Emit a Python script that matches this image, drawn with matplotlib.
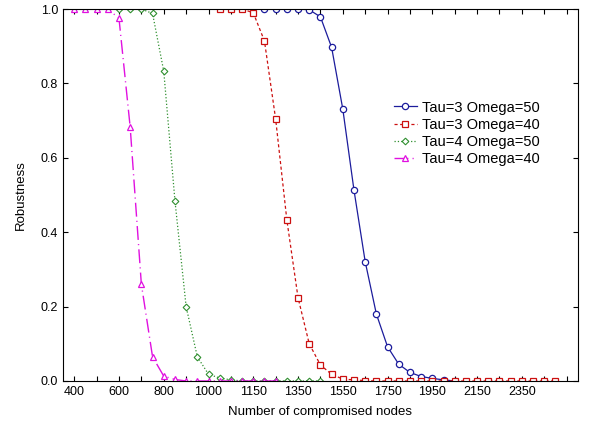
import numpy as np
import matplotlib
matplotlib.use("Agg")
import matplotlib.pyplot as plt

plt.rcParams['font.family'] = ['Liberation Sans', 'DejaVu Sans']

# Tau=3 Omega=50
x_t3o50 = [1250, 1300, 1350, 1400, 1450, 1500, 1550, 1600, 1650, 1700, 1750,
           1800, 1850, 1900, 1950, 2000, 2050, 2100]
y_t3o50 = [1.0, 1.0, 1.0, 1.0, 0.998, 0.979, 0.897, 0.731, 0.513, 0.321, 0.18,
           0.092, 0.045, 0.023, 0.012, 0.007, 0.003, 0.0]

# Tau=3 Omega=40
x_t3o40 = [1050, 1100, 1150, 1200, 1250, 1300, 1350, 1400, 1450, 1500, 1550,
           1600, 1650, 1700, 1750, 1800, 1850, 1900, 1950, 2000, 2050, 2100,
           2150, 2200, 2250, 2300, 2350, 2400, 2450, 2500, 2550]
y_t3o40 = [1.0, 1.0, 1.0, 0.99, 0.914, 0.704, 0.433, 0.224, 0.1, 0.043, 0.018,
           0.005, 0.003, 0.001, 0.0, 0.0, 0.0, 0.0, 0.0, 0.0, 0.0, 0.0,
           0.0, 0.0, 0.0, 0.0, 0.0, 0.0, 0.0, 0.0, 0.0]

# Tau=4 Omega=50
x_t4o50 = [600, 650, 700, 750, 800, 850, 900, 950, 1000, 1050, 1100, 1150,
           1200, 1250, 1300, 1350, 1400, 1450, 1500]
y_t4o50 = [1.0, 1.0, 1.0, 0.988, 0.833, 0.485, 0.2, 0.065, 0.018, 0.008, 0.003,
           0.0, 0.0, 0.0, 0.0, 0.0, 0.0, 0.0, 0.0]

# Tau=4 Omega=40
x_t4o40 = [400, 450, 500, 550, 600, 650, 700, 750, 800, 850, 900, 950, 1000,
           1050, 1100, 1150, 1200, 1250, 1300]
y_t4o40 = [1.0, 1.0, 1.0, 1.0, 0.975, 0.683, 0.26, 0.065, 0.013, 0.004, 0.0,
           0.0, 0.0, 0.0, 0.0, 0.0, 0.0, 0.0, 0.0]

x_label_pos = [400, 600, 800, 1000, 1200, 1400, 1600, 1800, 2000, 2200, 2400]
x_label_txt = ['400', '600', '800', '1000', '1150', '1350', '1550', '1750',
               '1950', '2150', '2350']
x_minor_pos = [500, 700, 900, 1100, 1300, 1500, 1700, 1900, 2100, 2300, 2500, 2600]

fig = plt.figure(figsize=(5.89, 4.30), dpi=100)
ax = fig.add_axes([0.107, 0.114, 0.874, 0.865])

ax.plot(x_t3o50, y_t3o50, '-', color='#1c1c9c', lw=0.9, marker='o', ms=4.5,
        mfc='white', mec='#1c1c9c', mew=0.9, label='Tau=3 Omega=50')
ax.plot(x_t3o40, y_t3o40, '--', color='#cc1010', lw=0.9, dashes=(2.5, 2),
        marker='s', ms=4.5, mfc='white', mec='#cc1010', mew=0.9,
        label='Tau=3 Omega=40')
ax.plot(x_t4o50, y_t4o50, ':', color='#2f8f2f', lw=0.9, marker='D', ms=3.4,
        mfc='white', mec='#2f8f2f', mew=0.8, label='Tau=4 Omega=50')
ax.plot(x_t4o40, y_t4o40, '-.', color='#e010e0', lw=1.0, dashes=(10, 3, 0.8, 3),
        marker='^', ms=5, mfc='white', mec='#e010e0', mew=0.9,
        label='Tau=4 Omega=40')

ax.set_xlim(350, 2650)
ax.set_ylim(0, 1.0)
ax.set_xticks(x_label_pos)
ax.set_xticklabels(x_label_txt)
ax.set_xticks(x_minor_pos, minor=True)
ax.set_yticks([0, 0.2, 0.4, 0.6, 0.8, 1.0])
ax.set_yticklabels(['0.0', '0.2', '0.4', '0.6', '0.8', '1.0'])
ax.tick_params(which='both', direction='in', top=True, right=True,
               labelsize=9, length=3.5, width=0.8)
for sp in ax.spines.values():
    sp.set_linewidth(0.8)

ax.set_xlabel('Number of compromised nodes', fontsize=9.5, labelpad=6)
ax.set_ylabel('Robustness', fontsize=9.5, labelpad=10)

ax.legend(loc='upper left', bbox_to_anchor=(0.642, 0.754), frameon=False,
          fontsize=10.5, handlelength=1.6, handletextpad=0.35,
          labelspacing=0.22, borderaxespad=0, borderpad=0)

fig.savefig('out.png', dpi=100)
